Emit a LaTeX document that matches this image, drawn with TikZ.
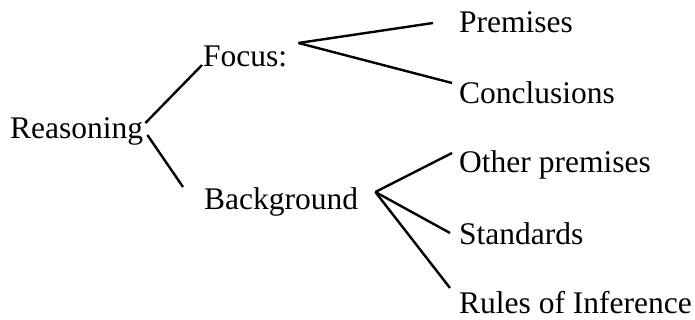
\documentclass[tikz,border=0pt]{standalone}
\usepackage{fontspec}
\setmainfont{Liberation Serif}
\usetikzlibrary{calc}
\begin{document}
\begin{tikzpicture}[x=1pt,y=-1pt,
  lbl/.style={inner sep=0pt, anchor=base west, font=\fontsize{31.5}{37}\selectfont},
  edge/.style={line width=2.4pt}]
\useasboundingbox (0,0) rectangle (695,320);
\node[lbl] (reason) at (10,139) {Reasoning};
\node[lbl] (focus) at (203,67) {Focus:};
\node[lbl] (back) at (204,210) {Background};
\node[lbl] (prem) at (459,33) {Premises};
\node[lbl] (concl) at (459,104) {Conclusions};
\node[lbl] (other) at (459,173) {Other premises};
\node[lbl] (stand) at (459,244) {Standards};
\node[lbl] (rules) at (459,313) {Rules of Inference};
\coordinate (fhub) at ($(focus.base east)+(11,-24)$);
\coordinate (bhub) at ($(back.base east)+(17,-18)$);
\draw[edge] ($(reason.base east)+(2,-16)$) -- ($(focus.base west)+(-1,-2)$);
\draw[edge] ($(reason.base east)+(4,-4)$) -- ($(back.base west)+(-21,-23)$);
\draw[edge] (fhub) -- ($(prem.base west)+(-26,-10)$);
\draw[edge] (fhub) -- ($(concl.base west)+(-7,-21)$);
\draw[edge] (bhub) -- ($(other.base west)+(-7,-20)$);
\draw[edge] (bhub) -- ($(stand.base west)+(-9,-11)$);
\draw[edge] (bhub) -- ($(rules.base west)+(-9,-25)$);
\end{tikzpicture}
\end{document}
